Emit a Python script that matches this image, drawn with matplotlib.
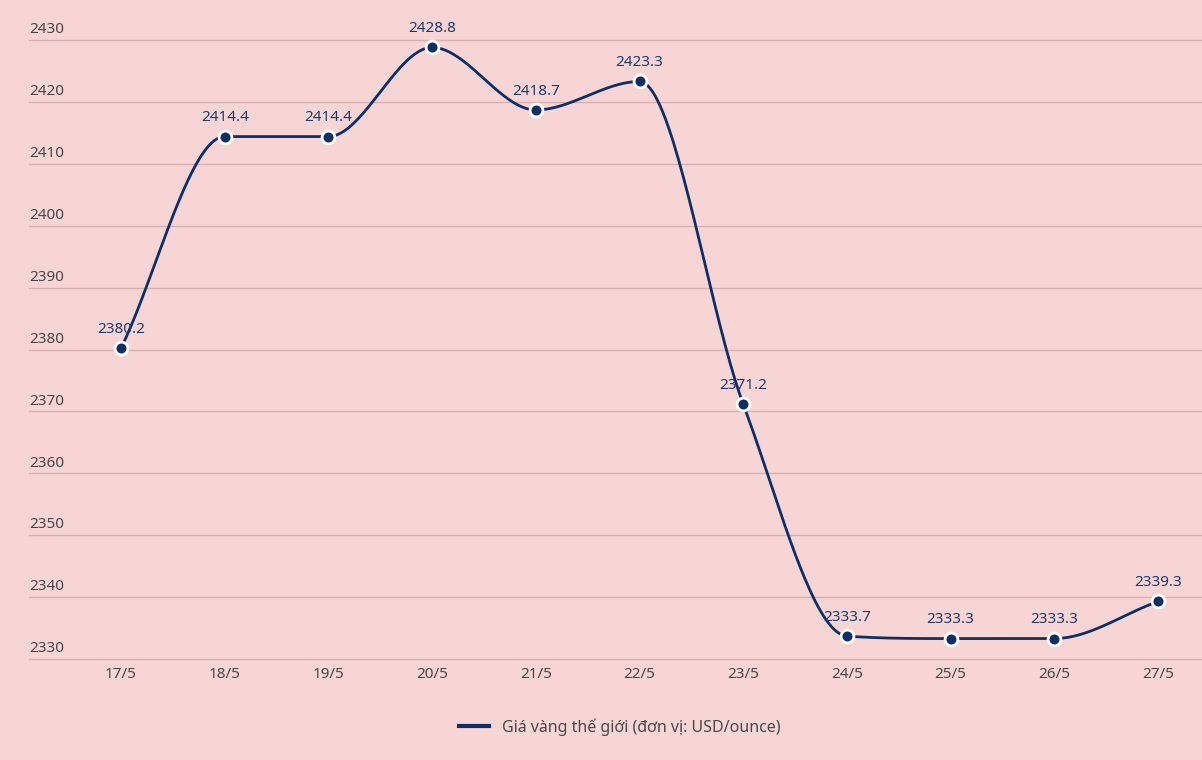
import numpy as np
import matplotlib
matplotlib.use("Agg")
import matplotlib.pyplot as plt
from matplotlib.lines import Line2D

dates = ["17/5", "18/5", "19/5", "20/5", "21/5", "22/5", "23/5", "24/5", "25/5", "26/5", "27/5"]
prices = [2380.2, 2414.4, 2414.4, 2428.8, 2418.7, 2423.3, 2371.2, 2333.7, 2333.3, 2333.3, 2339.3]
yticks = [2330, 2340, 2350, 2360, 2370, 2380, 2390, 2400, 2410, 2420, 2430]
legend_label = "Giá vàng thế giới (đơn vị: USD/ounce)"

BG = "#F7D5D5"
NAVY = "#0E2F66"
GRID = "#D6B0B0"
TXT = "#4D4548"


def monotone_cubic(x, y, n=40):
    x = np.asarray(x, float)
    y = np.asarray(y, float)
    h = np.diff(x)
    d = np.diff(y) / h
    m = np.zeros_like(y)
    m[0] = d[0]
    m[-1] = d[-1]
    for i in range(1, len(y) - 1):
        if d[i - 1] * d[i] <= 0:
            m[i] = 0
        else:
            m[i] = (d[i - 1] + d[i]) / 2
    for i in range(len(d)):
        if d[i] == 0:
            m[i] = 0
            m[i + 1] = 0
        else:
            a = m[i] / d[i]
            b = m[i + 1] / d[i]
            s = a * a + b * b
            if s > 9:
                t = 3 / np.sqrt(s)
                m[i] = t * a * d[i]
                m[i + 1] = t * b * d[i]
    xs, ys = [], []
    for i in range(len(d)):
        t = np.linspace(0, 1, n, endpoint=(i == len(d) - 1))
        h00 = 2 * t**3 - 3 * t**2 + 1
        h10 = t**3 - 2 * t**2 + t
        h01 = -2 * t**3 + 3 * t**2
        h11 = t**3 - t**2
        xs.append(x[i] + t * h[i])
        ys.append(h00 * y[i] + h10 * h[i] * m[i] + h01 * y[i + 1] + h11 * h[i] * m[i + 1])
    return np.concatenate(xs), np.concatenate(ys)


fig = plt.figure(figsize=(12.02, 7.60), dpi=100, facecolor=BG)
W, H = 1202, 760
left, right, top, bottom = 29, 1202, 40, 659
ax = fig.add_axes([left / W, 1 - bottom / H, (right - left) / W, (bottom - top) / H])
ax.set_facecolor(BG)

xi = np.arange(len(dates))
step = 103.7
x0 = -(121 - left) / step
x1 = (right - 121) / step
ax.set_xlim(x0, x1)
ax.set_ylim(2330, 2430)

for v in yticks:
    ax.axhline(v, color=GRID, lw=1.0, zorder=1, clip_on=False)
    ax.annotate(str(v), (0, v), xycoords=ax.get_yaxis_transform(), xytext=(0, 2),
                textcoords="offset points", ha="left", va="bottom",
                fontsize=11, color=TXT, family="Noto Sans")

sx, sy = monotone_cubic(xi, prices)
ax.plot(sx, sy, color=NAVY, lw=2.0, zorder=3, clip_on=False)
ax.scatter(xi, prices, s=85, color=NAVY, edgecolor="white", linewidth=2, zorder=4, clip_on=False)

for x, v in zip(xi, prices):
    ax.annotate(f"{v:.1f}", (x, v), xytext=(0, 8), textcoords="offset points", ha="center",
                va="bottom", fontsize=11, color="#1F3A6E", family="Noto Sans", zorder=5)

for x, lab in zip(xi, dates):
    ax.annotate(lab, (x, 2330), xytext=(0, -6), textcoords="offset points",
                ha="center", va="top", fontsize=11, color=TXT, family="Noto Sans")

for s in ax.spines.values():
    s.set_visible(False)
ax.set_xticks([])
ax.set_yticks([])

handle = Line2D([], [], color=NAVY, lw=3)
fig.legend([handle], [legend_label], loc="center", bbox_to_anchor=(620 / W, 1 - 727 / H),
           frameon=False, handlelength=1.9, labelcolor=TXT,
           prop={"family": "Noto Sans", "size": 11.5})

fig.savefig("out.png", dpi=100, facecolor=BG)
